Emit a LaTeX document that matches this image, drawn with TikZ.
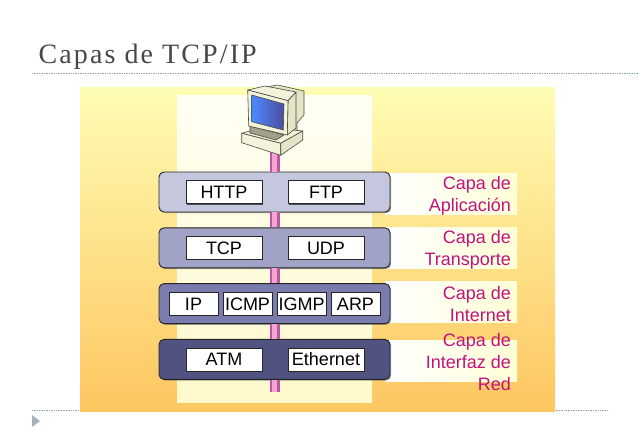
\documentclass[tikz,border=0pt]{standalone}
\usepackage{fontspec}
\setmainfont{Liberation Sans}
\newfontfamily\titlefont[LetterSpace=7.5]{Liberation Serif}
\usetikzlibrary{positioning, shadows}
\definecolor{bgtop}{HTML}{FFFDB4}
\definecolor{bgmid}{HTML}{FFE58E}
\definecolor{bgbot}{HTML}{FDC660}
\definecolor{coltop}{HTML}{FFFFF4}
\definecolor{colbot}{HTML}{FFF9CC}
\definecolor{striped}{HTML}{FFFFD6}
\definecolor{laytext}{HTML}{C1127F}
\definecolor{laya}{HTML}{C5C7DE}
\definecolor{layb}{HTML}{A0A2C6}
\definecolor{layc}{HTML}{7A7CAE}
\definecolor{layd}{HTML}{50527F}
\definecolor{pipeedge}{HTML}{C2559F}
\definecolor{pipemid}{HTML}{F2A6D2}
\definecolor{pcbody}{HTML}{F3F3DC}
\definecolor{pcback}{HTML}{E4E4C6}
\definecolor{pcline}{HTML}{4A4A40}
\definecolor{rulecol}{HTML}{8FA6B4}
\tikzstyle{layer} = [rectangle, rounded corners=5pt, minimum width=231pt, minimum height=40pt, draw=black!85, line width=0.9pt, drop shadow={shadow xshift=1.2pt, shadow yshift=-1.2pt, fill=black!60, opacity=0.6}]
\tikzstyle{proto} = [rectangle, minimum width=76pt, minimum height=23pt, inner sep=0pt, text height=13pt, text depth=0pt, fill=white, draw=black!85, line width=0.7pt, drop shadow={shadow xshift=1pt, shadow yshift=-1pt, fill=black, opacity=0.6}, font=\fontsize{18}{22}\selectfont]
\tikzstyle{protos} = [proto, minimum width=49pt]
\tikzstyle{strip} = [rectangle, minimum width=132pt, minimum height=41pt, inner sep=0pt, left color=white, right color=striped]
\tikzstyle{laylabel} = [inner sep=0pt, align=right, anchor=east, text=laytext, font=\fontsize{18}{21.7}\selectfont]
\tikzstyle{pipe} = [line width=10pt, pipeedge]
\tikzstyle{pipein} = [line width=5pt, pipemid]
\tikzstyle{pcpart} = [draw=pcline, line width=0.6pt, line join=round, fill=pcbody]
\tikzstyle{rulerow} = [rulecol, line width=0.7pt, densely dotted]

\begin{document}
\begin{tikzpicture}[x=1pt, y=-1pt, node distance=55.8pt]
    \useasboundingbox (0,0) rectangle (638,442);
    %title and rules
    \node (title) [anchor=base west, inner sep=0pt, text=black!72, font=\fontsize{28}{32}\selectfont\titlefont] at (38.5,63.5) {Capas de TCP/IP};
    \draw [rulerow] (32,73) -- (638,73);
    \draw [rulerow] (32,410) -- (607,410);
    \fill [rulecol!85!white] (32,415) -- (40,421) -- (32,427) -- cycle;

    %background
    \shade [top color=bgtop, middle color=bgmid, bottom color=bgbot] (80,87) rectangle (555,411);
    \shade [top color=coltop, bottom color=colbot] (177,95) rectangle (372,402);

    %strips at the right
    \node (stripa) [strip] at (451,193.5) {};
    \node (stripb) [strip, below of=stripa, node distance=54.5pt] {};
    \node (stripc) [strip, below of=stripb, node distance=54pt] {};
    \node (stripd) [strip, below of=stripc, node distance=58.5pt] {};
    \node (namea) [laylabel] at ([xshift=-6pt, yshift=-2pt]stripa.east) {Capa de\\Aplicación};
    \node (nameb) [laylabel] at ([xshift=-6pt, yshift=-2pt]stripb.east) {Capa de\\Transporte};
    \node (namec) [laylabel] at ([xshift=-6pt, yshift=-2pt]stripc.east) {Capa de\\Internet};
    \node (named) [laylabel] at ([xshift=-6pt, yshift=-1.5pt]stripd.east) {Capa de\\Interfaz de\\Red};

    %layers
    \node (app) [layer, fill=laya] at (274.5,192) {};
    \node (tra) [layer, fill=layb, below of=app] {};
    \node (int) [layer, fill=layc, below of=tra] {};
    \node (red) [layer, fill=layd, below of=int] {};

    %protocols
    \node (http) [proto, left of=app, node distance=50.5pt] {HTTP};
    \node (ftp) [proto, right of=app, node distance=51.5pt] {FTP};
    \node (tcp) [proto, left of=tra, node distance=50.5pt] {TCP};
    \node (udp) [proto, right of=tra, node distance=51.5pt] {UDP};
    \node (ip) [protos, left of=int, node distance=81pt] {IP};
    \node (icmp) [protos, left of=int, node distance=27pt] {ICMP};
    \node (igmp) [protos, right of=int, node distance=27pt] {IGMP};
    \node (arp) [protos, right of=int, node distance=81pt] {ARP};
    \node (atm) [proto, left of=red, node distance=50.5pt] {ATM};
    \node (eth) [proto, right of=red, node distance=51.5pt] {Ethernet};

    %pipe between the layers
    \coordinate (pc) at (274.5,148);
    \coordinate (pipeend) at (274.5,392);
    \draw [pipe] (pc) -- (app);
    \draw [pipe] (app) -- (tra);
    \draw [pipe] (tra) -- (int);
    \draw [pipe] (int) -- (red);
    \draw [pipe] (red) -- (pipeend);
    \draw [pipein] (pc) -- (app);
    \draw [pipein] (app) -- (tra);
    \draw [pipein] (tra) -- (int);
    \draw [pipein] (int) -- (red);
    \draw [pipein] (red) -- (pipeend);

    %computer
    \draw [pcpart, fill=pcback] (265,87) -- (278,85) -- (304,91) -- (304,115) -- (297,123) -- (297,133) -- (270,133) -- cycle;
    \draw [pcpart] (241.7,133.3) -- (264,127) -- (302.7,131) -- (280.7,143.3) -- cycle;
    \draw [pcpart] (241.7,133.3) -- (280.7,143.3) -- (280.7,155.3) -- (241.7,142.7) -- cycle;
    \draw [pcpart, fill=pcback] (280.7,143.3) -- (302.7,131) -- (302.7,140) -- (280.7,155.3) -- cycle;
    \draw [pcpart, fill=pcback!70!black] (250,126) -- (284,135) -- (276,140) -- (250,133) -- cycle;
    \draw [pcpart] (247.7,90) -- (265,86) -- (296,92) -- (288,100.7) -- cycle;
    \draw [pcpart, fill=pcback] (288,100.7) -- (296,92) -- (296,128) -- (287.3,135) -- cycle;
    \draw [pcpart] (247.7,90) -- (288,100.7) -- (287.3,135) -- (248.7,126) -- cycle;
    \shade [draw=pcline, line width=0.6pt, left color=blue!65!cyan!70!white, right color=blue!45!black!70!white] (251.7,95) -- (284,104) -- (283.3,130) -- (251.7,121.7) -- cycle;
\end{tikzpicture}
\end{document}
